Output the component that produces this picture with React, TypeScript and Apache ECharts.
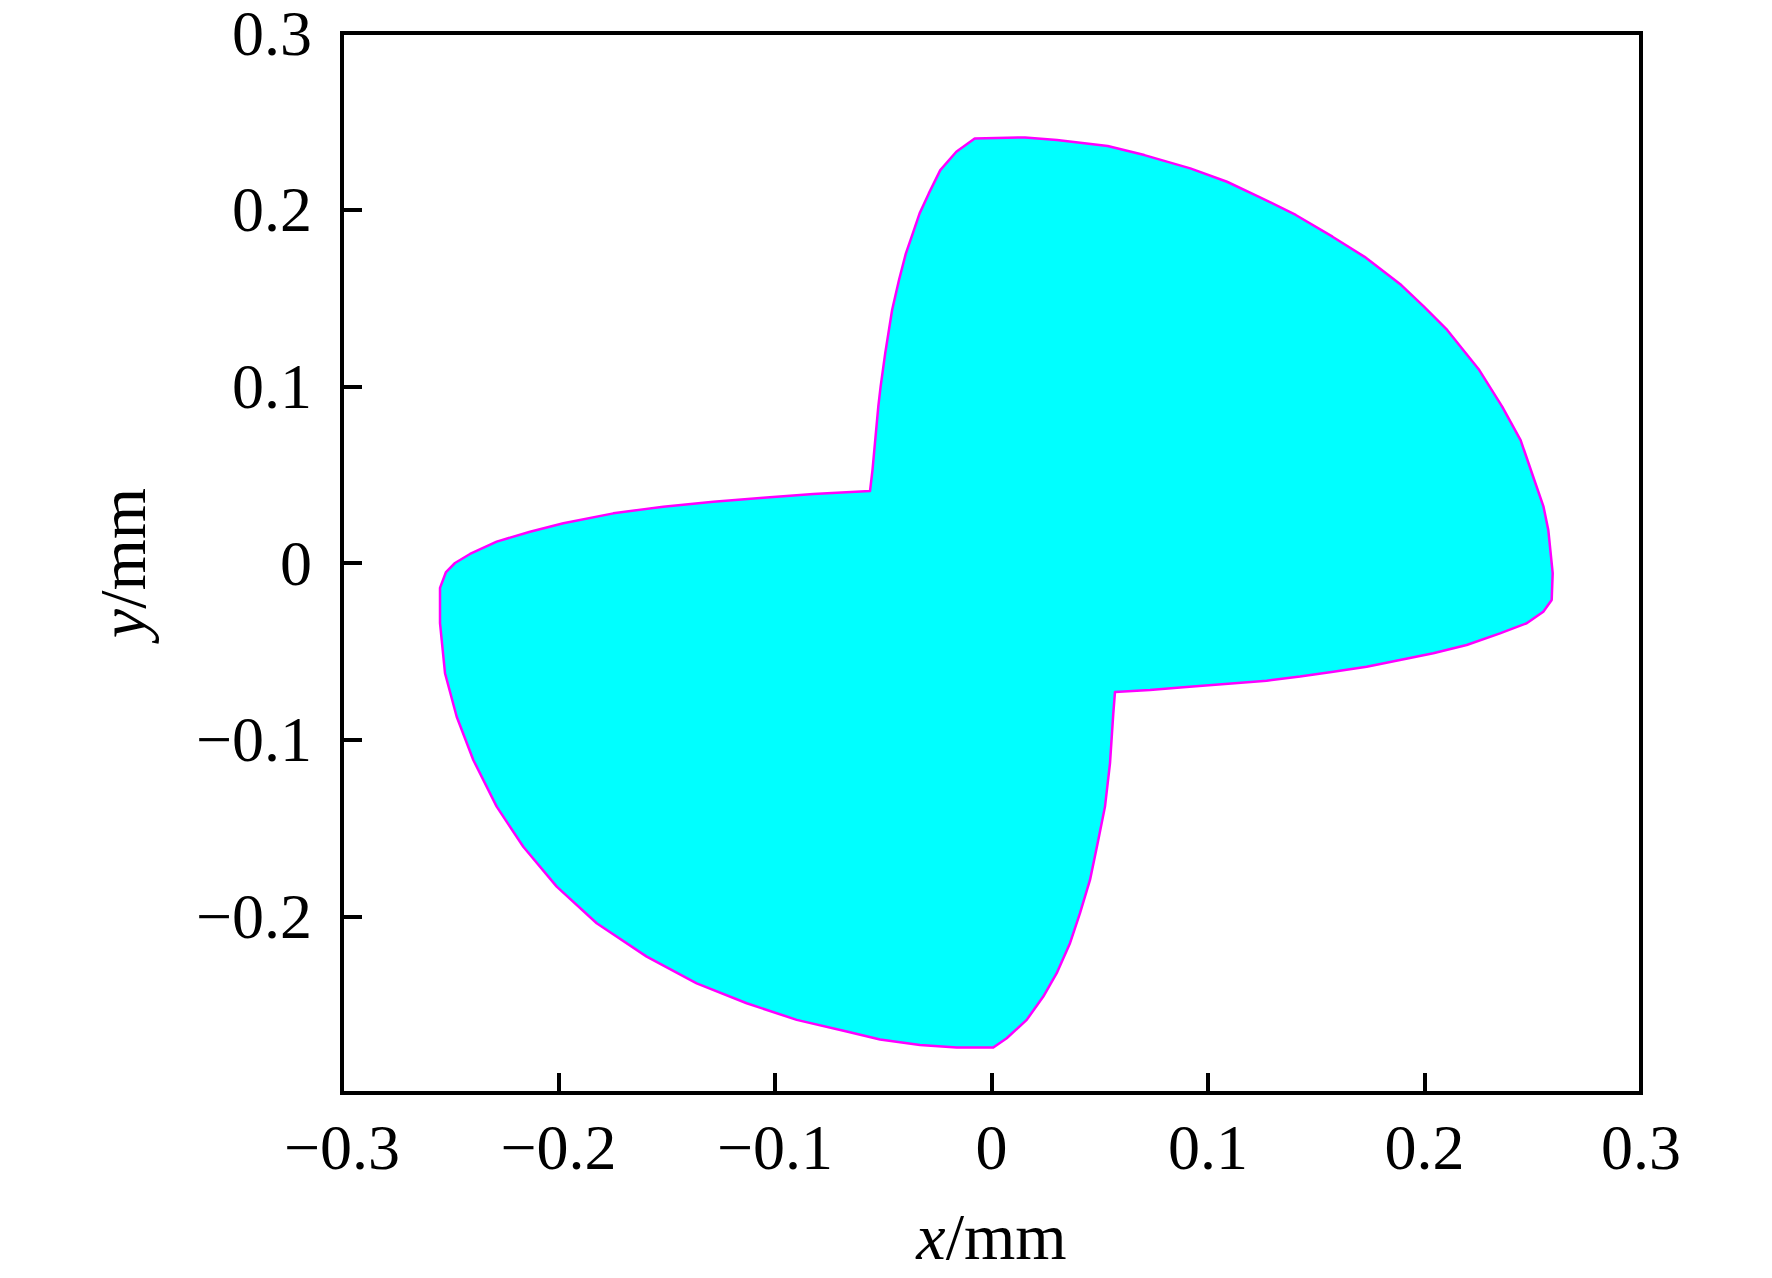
import React, { useEffect, useRef } from "react";
import * as echarts from "echarts";

// Outline of the cross-section (mm), traced clockwise from the top
const shapeX: number[] = [
  -0.00776, 0.01547, 0.03025, 0.05367, 0.07062, 0.09182, 0.10878, 0.12356, 0.14055, 0.15751,
  0.17233, 0.18928, 0.19986, 0.21048, 0.22531, 0.23589, 0.24439, 0.24965, 0.25497, 0.25718,
  0.25921, 0.25875, 0.25487, 0.24721, 0.23487, 0.21949, 0.20406, 0.18868, 0.1733, 0.15788,
  0.14249, 0.12711, 0.10785, 0.08859, 0.07321, 0.05704,
  0.05626, 0.05473, 0.05242, 0.04933, 0.0455, 0.04088, 0.03626, 0.03012, 0.02393, 0.01626,
  0.00702, 0.00083, -0.01607, -0.03303, -0.0515, -0.06688, -0.08998, -0.11307, -0.13617, -0.15926,
  -0.18236, -0.20083, -0.21626, -0.22855, -0.23935, -0.24702, -0.25242, -0.25473, -0.25473, -0.25196,
  -0.24781, -0.24088, -0.22855, -0.21316, -0.19778, -0.17469, -0.15159, -0.1285, -0.1054, -0.08231,
  -0.05612,
  -0.05497, -0.05229, -0.05122, -0.0491, -0.04591, -0.04273, -0.03954, -0.03635, -0.03321, -0.02896,
  -0.02365, -0.01626,
];
const shapeY: number[] = [
  0.2403, 0.2409, 0.2394, 0.236, 0.2309, 0.2234, 0.2158, 0.2073, 0.197, 0.1847,
  0.1733, 0.1573, 0.145, 0.1319, 0.1092, 0.0885, 0.0696, 0.0508, 0.0319, 0.0187,
  -0.0058, -0.0209, -0.0276, -0.0341, -0.0398, -0.0464, -0.0511, -0.0549, -0.0587, -0.0615,
  -0.0643, -0.0666, -0.0685, -0.0703, -0.0719, -0.073,
  -0.0851, -0.1134, -0.1379, -0.1568, -0.1794, -0.1982, -0.2152, -0.2322, -0.2454, -0.2586,
  -0.269, -0.2743, -0.2743, -0.2728, -0.2697, -0.2652, -0.2586, -0.2492, -0.2379, -0.2228,
  -0.2039, -0.1832, -0.1606, -0.1379, -0.1115, -0.087, -0.0624, -0.0341, -0.0141, -0.0051,
  0.0, 0.0051, 0.0121, 0.0177, 0.0225, 0.0281, 0.0319, 0.0347, 0.037, 0.039,
  0.0407,
  0.0526, 0.0885, 0.0998, 0.1187, 0.1432, 0.1602, 0.1753, 0.1866, 0.1979, 0.2092,
  0.2224, 0.2328,
];

const axisMin = -0.3;
const axisMax = 0.3;
const axisStep = 0.1;
const yHiddenLabels: number[] = [-0.3];

const FONT = "'Liberation Serif', 'Times New Roman', serif";

function fmt(v: number): string {
  const r = Math.round(v * 10) / 10;
  if (Math.abs(r) < 1e-9) return "0";
  return (r < 0 ? "\u2212" : "") + Math.abs(r).toFixed(1);
}

export default function App() {
  const ref = useRef<HTMLDivElement>(null);
  useEffect(() => {
    if (!ref.current) return;
    const chart = echarts.init(ref.current, undefined, { renderer: "svg" });
    const labelStyle = { fontFamily: FONT, fontSize: 64, lineHeight: 52, color: "#000" };
    const nameStyle = {
      fontFamily: FONT,
      fontSize: 66,
      color: "#000",
      rich: { i: { fontFamily: FONT, fontSize: 66, fontStyle: "italic", color: "#000" } },
    };
    const option: any = {
      animation: false,
      backgroundColor: "#fff",
      grid: {
        left: 342,
        top: 33,
        width: 1299,
        height: 1060,
        show: true,
        borderColor: "#000",
        borderWidth: 4,
        backgroundColor: "transparent",
      },
      xAxis: {
        type: "value",
        min: axisMin,
        max: axisMax,
        interval: axisStep,
        name: "{i|x}/mm",
        nameLocation: "middle",
        nameGap: 110,
        nameTextStyle: nameStyle,
        axisLine: { show: true, onZero: false, lineStyle: { color: "#000", width: 4 } },
        axisTick: { show: true, inside: true, length: 20, lineStyle: { color: "#000", width: 4 } },
        axisLabel: { ...labelStyle, margin: 28, formatter: (v: number) => fmt(v) },
        splitLine: { show: false },
      },
      yAxis: {
        type: "value",
        min: axisMin,
        max: axisMax,
        interval: axisStep,
        name: "{i|y}/mm",
        nameLocation: "middle",
        nameGap: 187,
        nameTextStyle: nameStyle,
        axisLine: { show: true, onZero: false, lineStyle: { color: "#000", width: 4 } },
        axisTick: { show: true, inside: true, length: 20, lineStyle: { color: "#000", width: 4 } },
        axisLabel: {
          ...labelStyle,
          margin: 30,
          formatter: (v: number) =>
            yHiddenLabels.some((h) => Math.abs(h - v) < 1e-9) ? "" : fmt(v),
        },
        splitLine: { show: false },
      },
      series: [
        {
          type: "custom",
          coordinateSystem: "cartesian2d",
          data: [[0, 0]],
          renderItem: (_params: any, api: any) => {
            const pts = shapeX.map((x, i) => api.coord([x, shapeY[i]]));
            return {
              type: "polygon",
              shape: { points: pts },
              style: { fill: "#00FFFF", stroke: "#FF00FF", lineWidth: 2.5, lineJoin: "round" },
            };
          },
        },
      ],
    };
    chart.setOption(option);
    return () => chart.dispose();
  }, []);
  return (
    <div
      ref={ref}
      style={{ position: "fixed", left: 0, top: 0, width: 1772, height: 1278, background: "#fff" }}
    />
  );
}
